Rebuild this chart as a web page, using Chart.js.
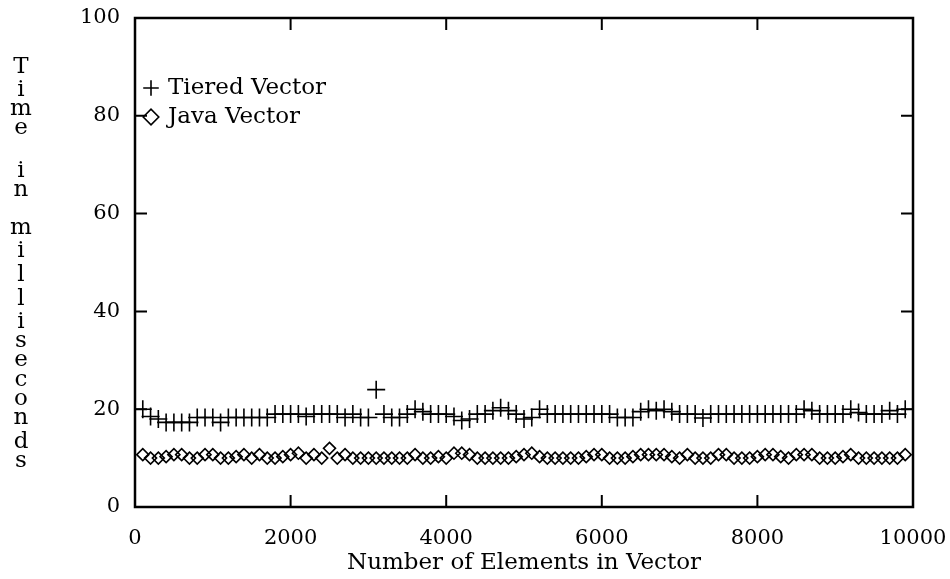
<!DOCTYPE html>
<html><head><meta charset="utf-8">
<script src="https://cdn.jsdelivr.net/npm/chart.js@4/dist/chart.umd.min.js"></script>
<style>html,body{margin:0;padding:0;background:#fff;}</style>
</head><body>
<canvas id="c" width="950" height="579"></canvas>
<script>
const elements = [100,200,300,400,500,600,700,800,900,1000,
  1100,1200,1300,1400,1500,1600,1700,1800,1900,2000,
  2100,2200,2300,2400,2500,2600,2700,2800,2900,3000,
  3100,3200,3300,3400,3500,3600,3700,3800,3900,4000,
  4100,4200,4300,4400,4500,4600,4700,4800,4900,5000,
  5100,5200,5300,5400,5500,5600,5700,5800,5900,6000,
  6100,6200,6300,6400,6500,6600,6700,6800,6900,7000,
  7100,7200,7300,7400,7500,7600,7700,7800,7900,8000,
  8100,8200,8300,8400,8500,8600,8700,8800,8900,9000,
  9100,9200,9300,9400,9500,9600,9700,9800,9900];
const tieredVector = [20,18.5,18,17.3,17.3,17.3,17.3,18.3,18.3,18.3,
  17.3,18.3,18.3,18.3,18.3,18.3,18.3,19,19,19,
  19,18.5,19,19,19,19,18.3,19,18.3,18.3,
  24,19,18.3,18.3,19,20,19.5,19,19,19,
  18.5,17.7,18,19,19,19.7,20.3,19.7,19,18,
  18.3,20,19,19,19,19,19,19,19,19,
  19,18.3,18.3,18.3,19.5,20,19.7,20,19.5,19,
  19,19,18.2,19,19,19,19,19,19,19,
  19,19,19,19,19,20,19.7,19,19,19,
  19,20,19.3,19,19,19,19.7,19,20];
const javaVector = [10.7,10,10,10.3,10.7,10.7,10,10,10.7,10.7,
  10,10,10.3,10.7,10,10.7,10,10,10.3,10.7,
  11,10,10.7,10,12,10,10.7,10,10,10,
  10,10,10,10,10,10.7,10,10,10.3,10,
  11,11,10.7,10,10,10,10,10,10.3,10.7,
  11,10.3,10,10,10,10,10,10.3,10.7,10.7,
  10,10,10,10.3,10.7,10.7,10.7,10.7,10.3,10,
  10.7,10,10,10,10.7,10.7,10,10,10,10.3,
  10.7,10.7,10.3,10,10.7,10.7,10.7,10,10,10,
  10.3,10.7,10,10,10,10,10,10,10.7];
const xTickValues = [0,2000,4000,6000,8000,10000];
const yTickValues = [0,20,40,60,80,100];
const seriesNames = ['Tiered Vector','Java Vector'];
const xTitle = 'Number of Elements in Vector';
const yTitle = 'Time in milliseconds';

const FONT = '"DejaVu Serif", "Liberation Serif", serif';

const framePlugin = {
  id: 'frame',
  beforeDraw(chart) {
    const lg = chart.legend;
    if (lg) {
      lg.left = chart.chartArea.left + 4.5;
      lg.top = 70.5;
    }
  },
  afterDatasetsDraw(chart) {
    const {ctx, chartArea: a, scales: {x, y}} = chart;
    ctx.save();
    ctx.strokeStyle = '#000';
    ctx.lineWidth = 2;
    const tl = 12;
    ctx.beginPath();
    x.ticks.forEach(t => {
      const px = x.getPixelForValue(t.value);
      ctx.moveTo(px, a.bottom); ctx.lineTo(px, a.bottom - tl);
      ctx.moveTo(px, a.top); ctx.lineTo(px, a.top + tl);
    });
    y.ticks.forEach(t => {
      const py = y.getPixelForValue(t.value);
      ctx.moveTo(a.left, py); ctx.lineTo(a.left + tl, py);
      ctx.moveTo(a.right, py); ctx.lineTo(a.right - tl, py);
    });
    ctx.stroke();
    ctx.lineWidth = 2.5;
    ctx.strokeRect(a.left, a.top, a.right - a.left, a.bottom - a.top);
    ctx.restore();
  },
  afterDraw(chart) {
    const ctx = chart.ctx;
    ctx.save();
    ctx.font = '23px ' + FONT;
    ctx.fillStyle = '#000';
    ctx.textAlign = 'center';
    ctx.textBaseline = 'alphabetic';
    const chars = [...yTitle];
    const spaceH = 12;
    const ms = chars.map(c => c === ' ' ? null : ctx.measureText(c));
    let total = 0;
    ms.forEach(m => { total += m ? (m.actualBoundingBoxAscent + m.actualBoundingBoxDescent) : spaceH; });
    const top = 57, bottom = 467;
    const gap = (bottom - top - total) / (chars.length - 1);
    let yy = top;
    chars.forEach((c, i) => {
      const m = ms[i];
      if (!m) { yy += spaceH + gap; return; }
      ctx.fillText(c, 21, yy + m.actualBoundingBoxAscent);
      yy += m.actualBoundingBoxAscent + m.actualBoundingBoxDescent + gap;
    });
    ctx.restore();
  }
};

new Chart(document.getElementById('c'), {
  type: 'scatter',
  data: {
    datasets: [
      {
        label: seriesNames[0],
        data: elements.map((v, i) => ({x: v, y: tieredVector[i]})),
        pointStyle: 'cross',
        pointRadius: 9,
        pointHoverRadius: 9,
        borderColor: '#000',
        backgroundColor: '#000',
        borderWidth: 1.6,
        showLine: false
      },
      {
        label: seriesNames[1],
        data: elements.map((v, i) => ({x: v, y: javaVector[i]})),
        pointStyle: 'rectRot',
        pointRadius: 6,
        pointHoverRadius: 6,
        borderColor: '#000',
        backgroundColor: 'rgba(0,0,0,0)',
        borderWidth: 1.6,
        showLine: false
      }
    ]
  },
  options: {
    responsive: false,
    animation: false,
    layout: {padding: {top: 18, right: 37, bottom: 0, left: 0}},
    plugins: {
      tooltip: {enabled: false},
      legend: {
        position: 'chartArea',
        align: 'start',
        labels: {
          usePointStyle: true,
          boxWidth: 11,
          boxHeight: 11,
          padding: 6,
          color: '#000',
          font: {family: FONT, size: 23}
        }
      }
    },
    scales: {
      x: {
        type: 'linear',
        min: 0, max: 10000,
        afterBuildTicks: s => { s.ticks = xTickValues.map(v => ({value: v})); },
        afterFit: s => { s.height = 72; s.paddingLeft = 0; s.paddingRight = 0; },
        grid: {display: false, drawTicks: false},
        border: {display: false},
        ticks: {color: '#000', font: {family: FONT, size: 21}, padding: 19, maxRotation: 0, autoSkip: false,
          callback: v => String(v)},
        title: {display: true, text: xTitle, color: '#000', font: {family: FONT, size: 23}, padding: {top: 0, bottom: 2}}
      },
      y: {
        type: 'linear',
        min: 0, max: 100,
        afterBuildTicks: s => { s.ticks = yTickValues.map(v => ({value: v})); },
        afterFit: s => { s.width = 135; s.paddingTop = 0; s.paddingBottom = 0; },
        grid: {display: false, drawTicks: false},
        border: {display: false},
        ticks: {color: '#000', font: {family: FONT, size: 21}, padding: 15, autoSkip: false,
          callback: v => String(v)}
      }
    }
  },
  plugins: [framePlugin]
});
</script>
</body></html>
